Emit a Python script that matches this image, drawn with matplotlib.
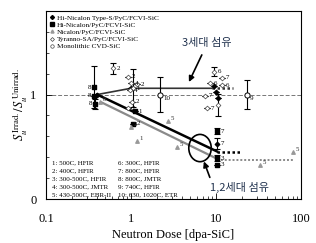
import matplotlib
matplotlib.use("Agg")
import matplotlib.pyplot as plt
from matplotlib.patches import Ellipse
from matplotlib.lines import Line2D
import numpy as np

# ---------------- data ----------------
# Hi-Nicalon Type-S/PyC/FCVI-SiC (small filled diamonds)
hnls_dose = [0.40, 1.00, 9.5, 10.0, 10.5, 10.2]
hnls_str = [1.00, 1.06, 1.08, 1.02, 0.97, 0.53]
hnls_lab = ['', '', '', '', '', '7']
hnls_err = [0.0, 0.0, 0.0, 0.0, 0.0, 0.05]

# Hi-Nicalon/PyC/FCVI-SiC (filled squares)
hn_dose = [0.37, 0.37, 0.38, 1.12, 1.05, 10.3, 10.3, 10.3]
hn_str = [1.07, 0.99, 0.91, 0.84, 0.72, 0.65, 0.39, 0.33]
hn_lab = ['8', '8', '8', '1', '2', '7', '3', '3']
hn_err = [0.20, 0.0, 0.05, 0.0, 0.0, 0.03, 0.03, 0.0]

# Nicalon/PyC/FCVI-SiC (small grey triangles)
nic_dose = [0.43, 1.00, 1.18, 2.7, 3.5, 33.0, 80.0]
nic_str = [0.93, 0.69, 0.56, 0.75, 0.50, 0.33, 0.45]
nic_lab = ['8', '2', '1', '5', '5', '5', '5']

# Tyranno-SA/PyC/FCVI-SiC (open diamonds)
tsa_dose = [0.61, 1.06, 0.92, 1.00, 1.18, 0.97, 1.03, 0.92, 9.5, 11.8, 8.5, 11.8, 7.4, 7.8, 10.6]
tsa_str = [1.25, 1.06, 1.17, 1.11, 1.10, 1.04, 0.93, 0.87, 1.22, 1.16, 1.11, 1.09, 0.99, 0.87, 0.90]
tsa_lab = ['2', '1', '2', '4', '2', '4', '2', '2', '6', '7', '6', '6', '7', '7', '']
tsa_err = [0.05, 0.18, 0.0, 0.0, 0.0, 0.0, 0.0, 0.0, 0.04, 0.0, 0.0, 0.0, 0.0, 0.0, 0.11]

# Monolithic CVD-SiC (open circles)
cvd_dose = [2.2, 23.0]
cvd_str = [1.00, 1.00]
cvd_lab = ['10', '9']
cvd_err = [0.17, 0.14]

# trend lines
hn_line_dose = [0.40, 10.3]
hn_line_str = [1.00, 0.455]
hn_ext_dose = [10.3, 20.0]
hn_ext_str = [0.45, 0.45]
nic_line_dose = [0.45, 10.3]
nic_line_str = [0.925, 0.385]
nic_ext_dose = [10.3, 80.0]
nic_ext_str = [0.37, 0.37]
g3_line_dose = [0.40, 1.0, 9.0]
g3_line_str = [1.00, 1.06, 1.06]
g3_ext_dose = [9.0, 16.0]
g3_ext_str = [1.06, 1.06]

legend_labels = ['Hi-Nicalon Type-S/PyC/FCVI-SiC', 'Hi-Nicalon/PyC/FCVI-SiC',
                 'Nicalon/PyC/FCVI-SiC', 'Tyranno-SA/PyC/FCVI-SiC', 'Monolithic CVD-SiC']
cond_col1 = ['1: 500C, HFIR', '2: 400C, HFIR', '3: 300-500C, HFIR',
             '4: 300-500C, JMTR', '5: 430-500C, EBR-II']
cond_col2 = ['6: 300C, HFIR', '7: 800C, HFIR', '8: 800C, JMTR',
             '9: 740C, HFIR', '10: 630, 1020C, ETR']
x_ticks = [0.1, 1, 10, 100]
x_ticklabels = ['0.1', '1', '10', '100']
y_ticks = [0, 1]
y_ticklabels = ['0', '1']
note_g3 = '3세대 섬유'
note_g12 = '1,2세대 섬유'

# label placement (style, not data): +1 right of point, -1 left of point
hn_side = [-1, -1, -1, 1, 1, 1, 1, 1]

# ---------------- figure ----------------
plt.rcParams['font.family'] = ['Liberation Serif', 'DejaVu Serif']
plt.rcParams['mathtext.fontset'] = 'stix'

fig = plt.figure(figsize=(3.16, 2.43), dpi=100)
ax = fig.add_axes([46/316, 1-199/243, 255/316, 188/243])
ax.set_xscale('log')
ax.set_xlim(0.1, 100)
ax.set_ylim(0, 1.8)

ax.axhline(1.0, color='#777777', lw=0.7, ls=(0, (4, 2)), zorder=1)

ax.plot(hn_line_dose, hn_line_str, color='black', lw=1.8, zorder=2)
ax.plot(hn_ext_dose, hn_ext_str, color='black', lw=1.8, ls=(0, (1, 1)), zorder=2)
ax.plot(nic_line_dose, nic_line_str, color='#8a8a8a', lw=1.6, zorder=2)
ax.plot(nic_ext_dose, nic_ext_str, color='#8a8a8a', lw=1.4, ls=(0, (1, 1)), zorder=2)
ax.plot(g3_line_dose, g3_line_str, color='#333333', lw=1.2, zorder=2)
ax.plot(g3_ext_dose, g3_ext_str, color='#333333', lw=1.8, ls=(0, (1, 1)), zorder=2)

ebkw = dict(fmt='none', ecolor='black', elinewidth=0.8, capsize=2, capthick=0.8, zorder=3)
ax.errorbar(hn_dose, hn_str, yerr=hn_err, **ebkw)
ax.errorbar(hnls_dose, hnls_str, yerr=hnls_err, **ebkw)
ax.errorbar(tsa_dose, tsa_str, yerr=tsa_err, **ebkw)
ax.errorbar(cvd_dose, cvd_str, yerr=cvd_err, **ebkw)

ax.scatter(hnls_dose, hnls_str, marker='D', s=5, color='black', zorder=4)
ax.scatter(hn_dose, hn_str, marker='s', s=10, color='black', zorder=4)
ax.scatter(nic_dose, nic_str, marker='^', s=6, color='#999999', zorder=4)
ax.scatter(tsa_dose, tsa_str, marker='D', s=6, facecolor='white', edgecolor='#444444', lw=0.5, zorder=4)
ax.scatter(cvd_dose, cvd_str, marker='o', s=14, facecolor='white', edgecolor='black', lw=0.7, zorder=4)

def lab(xs, ys, ls, color='black', dx=3, dy=0, sides=None):
    for i, (x, y, l) in enumerate(zip(xs, ys, ls)):
        if not l:
            continue
        s = 1 if sides is None else sides[i]
        ddx = dx if s > 0 else -5
        ax.annotate(l, (x, y), xytext=(ddx, dy), textcoords='offset points',
                    fontsize=5, color=color, va='center', ha='left', zorder=5)

lab(hn_dose, hn_str, hn_lab, dx=2.5, sides=hn_side)
lab(hnls_dose, hnls_str, hnls_lab, dx=2.5)
lab(nic_dose, nic_str, nic_lab, color='#333333', dx=2, dy=1.5)
lab(tsa_dose, tsa_str, tsa_lab, dx=2.5)
lab(cvd_dose, cvd_str, cvd_lab, dx=2.5, dy=-3)

# legend
handles = [
    Line2D([], [], ls='none', marker='D', ms=2, color='black'),
    Line2D([], [], ls='none', marker='s', ms=3.2, color='black'),
    Line2D([], [], ls='none', marker='^', ms=2.2, color='#999999'),
    Line2D([], [], ls='none', marker='D', ms=2, mfc='white', mec='#444444', mew=0.5),
    Line2D([], [], ls='none', marker='o', ms=2.5, mfc='white', mec='#444444', mew=0.5),
]
ax.legend(handles, legend_labels, loc='upper left', frameon=False, fontsize=5.2,
          handlelength=0.6, handletextpad=0.4, labelspacing=0.15,
          borderaxespad=0.2, borderpad=0.3)

# condition notes
for i, (a, b) in enumerate(zip(cond_col1, cond_col2)):
    yy = 0.192 - i * 0.0425
    ax.text(0.025, yy, a, transform=ax.transAxes, fontsize=5, va='center', ha='left')
    ax.text(0.283, yy, b, transform=ax.transAxes, fontsize=5, va='center', ha='left')

# ellipse and arrows
ax.add_patch(Ellipse((0.604, 0.271), 0.088, 0.145, transform=ax.transAxes,
                     fill=False, ec='black', lw=1.2, zorder=6))
kcol = '#22334f'
ax.annotate(note_g3, xy=(4.8, 1.12), xytext=(7.9, 1.49), fontsize=8,
            family=['Noto Sans CJK KR', 'DejaVu Sans'], color=kcol, ha='center', va='center',
            arrowprops=dict(arrowstyle='-|>', color='black', lw=1.2, mutation_scale=8,
                            shrinkA=3, shrinkB=0), zorder=7)
ax.annotate(note_g12, xy=(7.2, 0.36), xytext=(19.0, 0.115), fontsize=8,
            family=['Noto Sans CJK KR', 'DejaVu Sans'], color=kcol, ha='center', va='center',
            arrowprops=dict(arrowstyle='-|>', color='black', lw=1.2, mutation_scale=8,
                            shrinkA=1, shrinkB=0,
                            relpos=(0.03, 0.85)), zorder=7)

# ticks
ax.set_xticks(x_ticks)
ax.set_xticklabels(x_ticklabels)
ax.set_yticks(y_ticks)
ax.set_yticklabels(y_ticklabels)
ax.set_yticks(np.arange(0.2, 1.8, 0.2), minor=True)
ax.tick_params(which='both', direction='in', top=False, right=False, labelsize=9)
ax.tick_params(axis='x', which='major', length=4, width=0.6, pad=10)
ax.tick_params(axis='x', which='minor', length=2.5, width=0.5)
ax.tick_params(axis='y', which='major', length=4, width=0.6, pad=7)
ax.tick_params(axis='y', which='minor', length=2.5, width=0.5)
for s in ax.spines.values():
    s.set_linewidth(0.8)

ax.set_xlabel('Neutron Dose [dpa-SiC]', fontsize=9, labelpad=3)
fig.text(20/316, 1-105/243, r'$S_u^{\,\mathrm{Irrad.}}/S_u^{\,\mathrm{Unirrad.}}$',
         rotation=90, fontsize=9, ha='center', va='center')

fig.savefig('out.png', dpi=100)
